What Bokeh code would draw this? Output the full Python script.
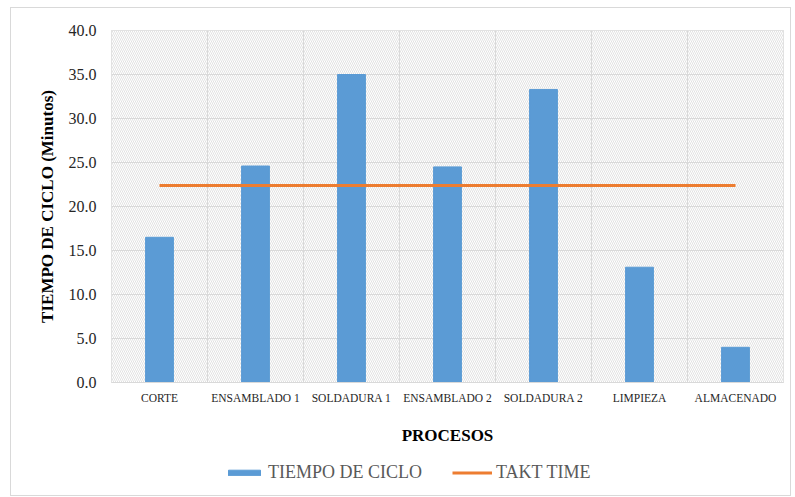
from bokeh.plotting import figure
from bokeh.layouts import column
from bokeh.models import (FactorRange, Range1d, FixedTicker, NumeralTickFormatter,
                          BoxAnnotation, Span, Legend, LegendItem)
from bokeh.embed import file_html
from bokeh.resources import INLINE

procesos = ["CORTE", "ENSAMBLADO 1", "SOLDADURA 1", "ENSAMBLADO 2",
            "SOLDADURA 2", "LIMPIEZA", "ALMACENADO"]
tiempo_ciclo = [16.5, 24.6, 35.0, 24.5, 33.3, 13.1, 4.0]
takt_time = [22.4] * len(procesos)
y_ticks = [0, 5, 10, 15, 20, 25, 30, 35, 40]
series_names = ["TIEMPO DE CICLO", "TAKT TIME"]

FONT = "Liberation Serif"
GRID = "#D9D9D9"
BLUE = "#5B9BD5"
ORANGE = "#ED7D31"

p = figure(width=779, height=449, x_range=FactorRange(*procesos),
           y_range=Range1d(0, 40), output_backend="svg", toolbar_location=None,
           min_border_left=100, min_border_right=7, min_border_top=22,
           min_border_bottom=75)
p.outline_line_color = GRID

# hatched plot-area background
bg = BoxAnnotation(fill_color="white", fill_alpha=1.0, line_color=None,
                   hatch_pattern="left_diagonal_line", hatch_color="#E2E2E2",
                   hatch_scale=4, hatch_weight=1, level="image")
p.add_layout(bg)

# grid
p.xgrid.grid_line_color = None
p.ygrid.grid_line_color = GRID
p.ygrid.ticker = FixedTicker(ticks=y_ticks)
for i in range(1, len(procesos)):
    p.add_layout(Span(location=i, dimension="height", line_color=GRID,
                      line_width=1, level="underlay"))

bars = p.vbar(x=procesos, top=tiempo_ciclo, width=0.29, color=BLUE)
takt = p.line(x=procesos, y=takt_time, line_color=ORANGE, line_width=3)

# axes
p.yaxis.ticker = FixedTicker(ticks=y_ticks)
p.yaxis.formatter = NumeralTickFormatter(format="0.0")
p.yaxis.axis_line_color = None
p.yaxis.major_tick_line_color = None
p.yaxis.minor_tick_line_color = None
p.yaxis.major_tick_out = 0
p.yaxis.major_label_standoff = 15
p.yaxis.major_label_text_font = FONT
p.yaxis.major_label_text_font_size = "16px"
p.yaxis.major_label_text_color = "#262626"
p.yaxis.axis_label = "TIEMPO DE CICLO (Minutos)"
p.yaxis.axis_label_text_font = FONT
p.yaxis.axis_label_text_font_size = "17px"
p.yaxis.axis_label_text_font_style = "bold"
p.yaxis.axis_label_text_color = "#000000"
p.yaxis.axis_label_standoff = 9

p.xaxis.axis_line_color = GRID
p.xaxis.major_tick_line_color = None
p.xaxis.major_tick_out = 0
p.xaxis.major_label_standoff = 9
p.xaxis.major_label_text_font = FONT
p.xaxis.major_label_text_font_size = "11.5px"
p.xaxis.major_label_text_color = "#262626"
p.xaxis.axis_label = "PROCESOS"
p.xaxis.axis_label_text_font = FONT
p.xaxis.axis_label_text_font_size = "17px"
p.xaxis.axis_label_text_font_style = "bold"
p.xaxis.axis_label_text_color = "#000000"
p.xaxis.axis_label_standoff = 19

# legend strip below the chart (frame aligned with the chart's frame)
nan = float("nan")
pl = figure(width=779, height=38, x_range=Range1d(0, 1), y_range=Range1d(0, 1),
            output_backend="svg", toolbar_location=None,
            x_axis_location=None, y_axis_location=None, min_border=0)
pl.outline_line_color = None
for g in pl.grid:
    g.visible = False
pl.xgrid.grid_line_color = None
pl.ygrid.grid_line_color = None
lg_bar = pl.vbar(x=[nan], top=[nan], width=0.5, color=BLUE)
lg_line = pl.line(x=[nan, nan], y=[nan, nan], line_color=ORANGE, line_width=3)
legend = Legend(items=[LegendItem(label=series_names[0], renderers=[lg_bar]),
                       LegendItem(label=series_names[1], renderers=[lg_line])],
                orientation="horizontal", location=(113, 12),
                label_text_font=FONT, label_text_font_size="18px",
                label_text_color="#595959", glyph_width=40, glyph_height=7,
                label_standoff=4, spacing=30, padding=0, margin=0,
                border_line_color=None, background_fill_alpha=0)
pl.add_layout(legend)

layout = column(p, pl, spacing=0, margin=(7, 0, 0, 10),
                styles={"border": "1px solid #D9D9D9"})

open("out.html", "w").write(file_html(layout, INLINE))
